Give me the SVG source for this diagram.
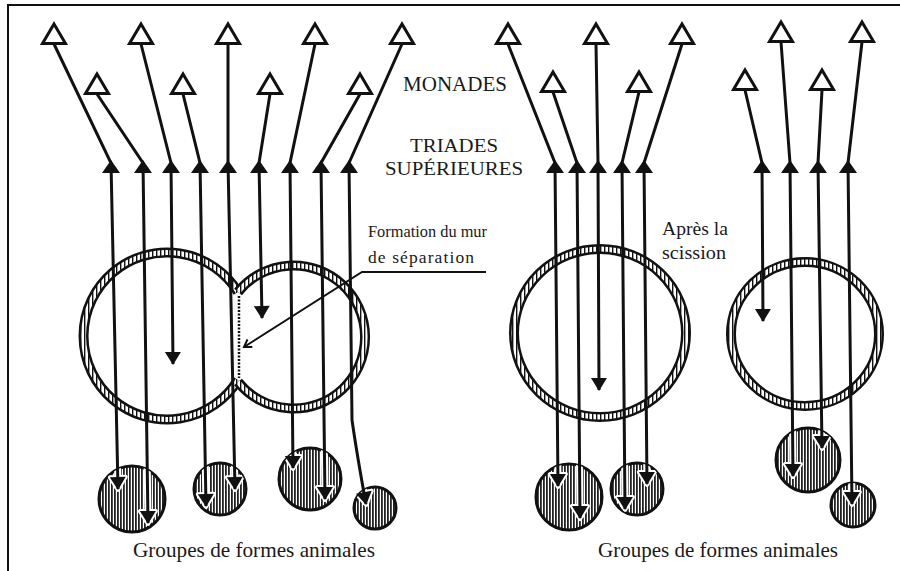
<svg xmlns="http://www.w3.org/2000/svg" width="900" height="571" viewBox="0 0 900 571">
  <style>
    .frame { fill: none; stroke: #111; stroke-width: 2; }
    .ring-out { fill: none; stroke: #111; stroke-width: 10; }
    .ring-in { fill: none; stroke: url(#hatch); stroke-width: 5; }
    .group { fill: url(#dense); stroke: #111; stroke-width: 3; }
    .conn { fill: none; stroke: #111; stroke-width: 3; }
    .halo { fill: none; stroke: #fff; stroke-width: 7; }
    .tri { fill: #fff; stroke: #111; stroke-width: 3; stroke-linejoin: miter; }
    .up { fill: #111; }
    .lbl { font-family: "Liberation Serif", "DejaVu Serif", serif; fill: #1a1a1a; }
    .big { font-size: 21px; }
    .hdr { font-size: 19px; }
    .mid { font-size: 18px; }
    .note { font-size: 17.5px; }
    .pointer { fill: none; stroke: #111; stroke-width: 2; }
    .wall { stroke: #111; stroke-width: 2.5; stroke-dasharray: 2 1.5; }
  </style>
  <defs>
    <pattern id="hatch" patternUnits="userSpaceOnUse" width="4" height="4">
      <rect width="4" height="4" fill="#fff"/>
      <rect width="1.4" height="4" fill="#111"/>
    </pattern>
    <pattern id="dense" patternUnits="userSpaceOnUse" width="3" height="3">
      <rect width="3" height="3" fill="#fff"/>
      <rect width="1.8" height="3" fill="#222"/>
    </pattern>
    <path id="tri" class="tri" d="M0,-10 L11.5,9.5 L-11.5,9.5 Z"/>
    <path id="up" class="up" d="M0,-2 L9,11 L-9,11 Z"/>
    <marker id="arrow" markerUnits="userSpaceOnUse" viewBox="0 0 13 16" markerWidth="13" markerHeight="16" refX="12" refY="8" orient="auto" overflow="visible">
      <path d="M0,0 L13,8 L0,16 Z" fill="#111"/>
    </marker>
    <marker id="arrowHalo" markerUnits="userSpaceOnUse" viewBox="0 0 13 16" markerWidth="13" markerHeight="16" refX="12" refY="8" orient="auto" overflow="visible">
      <path d="M0,0 L13,8 L0,16 Z" fill="#fff" stroke="#fff" stroke-width="4" stroke-linejoin="round"/>
    </marker>
    <marker id="tick" markerUnits="userSpaceOnUse" viewBox="0 0 10 10" markerWidth="10" markerHeight="10" refX="9" refY="5" orient="auto" overflow="visible">
      <path d="M2,0.5 L9,5 L2,9.5" fill="none" stroke="#111" stroke-width="2"/>
    </marker>
    <clipPath id="groupsClip">
      <circle cx="132" cy="499" r="33"/>
      <circle cx="220" cy="489" r="26"/>
      <circle cx="310" cy="479" r="31"/>
      <circle cx="375" cy="508" r="21"/>
      <circle cx="569" cy="497" r="33"/>
      <circle cx="637" cy="489" r="26"/>
      <circle cx="808" cy="460" r="32"/>
      <circle cx="853" cy="505" r="22"/>
    </clipPath>
  </defs>

  <rect width="900" height="571" fill="#fff"/>
  <path class="frame" d="M8,571 V5 H900"/>

  <!-- causal bodies: joined pair during separation -->
  <g id="body-left">
    <path class="ring-out" d="M238,292 A83.5,83.5 0 1 0 238,380"/>
    <path class="ring-in" d="M238,292 A83.5,83.5 0 1 0 238,380"/>
  </g>
  <g id="body-right">
    <path class="ring-out" d="M238,292 A71.5,71.5 0 1 1 238,382"/>
    <path class="ring-in" d="M238,292 A71.5,71.5 0 1 1 238,382"/>
  </g>
  <g id="wall">
    <line class="wall" x1="239" y1="296" x2="239" y2="378"/>
  </g>

  <!-- causal bodies after the split -->
  <g id="body-split-a">
    <ellipse class="ring-out" cx="600" cy="333" rx="86" ry="84"/>
    <ellipse class="ring-in" cx="600" cy="333" rx="86" ry="84"/>
  </g>
  <g id="body-split-b">
    <ellipse class="ring-out" cx="805" cy="334" rx="74" ry="72"/>
    <ellipse class="ring-in" cx="805" cy="334" rx="74" ry="72"/>
  </g>

  <!-- animal form groups -->
  <g id="group-1"><circle class="group" cx="132" cy="499" r="33"/></g>
  <g id="group-2"><circle class="group" cx="220" cy="489" r="26"/></g>
  <g id="group-3"><circle class="group" cx="310" cy="479" r="31"/></g>
  <g id="group-4"><circle class="group" cx="375" cy="508" r="21"/></g>
  <g id="group-5"><circle class="group" cx="569" cy="497" r="33"/></g>
  <g id="group-6"><circle class="group" cx="637" cy="489" r="26"/></g>
  <g id="group-7"><circle class="group" cx="808" cy="460" r="32"/></g>
  <g id="group-8"><circle class="group" cx="853" cy="505" r="22"/></g>

  <!-- connectors: monad -> upper triad -> downward ray -->
  <g id="connectors">
    <g clip-path="url(#groupsClip)">
      <path class="halo" marker-end="url(#arrowHalo)" d="M111,163 L118,489"/>
      <path class="halo" marker-end="url(#arrowHalo)" d="M143,163 L148,523"/>
      <path class="halo" marker-end="url(#arrowHalo)" d="M200,163 L206,506"/>
      <path class="halo" marker-end="url(#arrowHalo)" d="M228,163 L235,489"/>
      <path class="halo" marker-end="url(#arrowHalo)" d="M290,163 L293,468"/>
      <path class="halo" marker-end="url(#arrowHalo)" d="M321,163 L325,499"/>
      <path class="halo" marker-end="url(#arrowHalo)" d="M349,163 L352,420 Q357,455 366,504"/>
      <path class="halo" marker-end="url(#arrowHalo)" d="M555,163 L558,486"/>
      <path class="halo" marker-end="url(#arrowHalo)" d="M577,163 L580,518"/>
      <path class="halo" marker-end="url(#arrowHalo)" d="M622,163 L625,509"/>
      <path class="halo" marker-end="url(#arrowHalo)" d="M644,163 L647,484"/>
      <path class="halo" marker-end="url(#arrowHalo)" d="M790,163 L793,476"/>
      <path class="halo" marker-end="url(#arrowHalo)" d="M818,163 L822,448"/>
      <path class="halo" marker-end="url(#arrowHalo)" d="M848,163 L852,504"/>
    </g>
    <path class="conn" marker-end="url(#arrow)" d="M54,44 L111,163 L118,489"/>
    <path class="conn" marker-end="url(#arrow)" d="M97,94 L143,163 L148,523"/>
    <path class="conn" marker-end="url(#arrow)" d="M141,44 L171,163 L173,364"/>
    <path class="conn" marker-end="url(#arrow)" d="M183,94 L200,163 L206,506"/>
    <path class="conn" marker-end="url(#arrow)" d="M228,44 L228,163 L235,489"/>
    <path class="conn" marker-end="url(#arrow)" d="M270,94 L259,163 L262,318"/>
    <path class="conn" marker-end="url(#arrow)" d="M315,44 L290,163 L293,468"/>
    <path class="conn" marker-end="url(#arrow)" d="M360,94 L321,163 L325,499"/>
    <path class="conn" marker-end="url(#arrow)" d="M402,44 L349,163 L352,420 Q357,455 366,504"/>

    <path class="conn" marker-end="url(#arrow)" d="M508,44 L555,163 L558,486"/>
    <path class="conn" marker-end="url(#arrow)" d="M553,92 L577,163 L580,518"/>
    <path class="conn" marker-end="url(#arrow)" d="M596,44 L598,163 L599,390"/>
    <path class="conn" marker-end="url(#arrow)" d="M639,92 L622,163 L625,509"/>
    <path class="conn" marker-end="url(#arrow)" d="M682,44 L644,163 L647,484"/>
    <path class="conn" marker-end="url(#arrow)" d="M745,90 L762,163 L763,321"/>
    <path class="conn" marker-end="url(#arrow)" d="M781,42 L790,163 L793,476"/>
    <path class="conn" marker-end="url(#arrow)" d="M822,90 L818,163 L822,448"/>
    <path class="conn" marker-end="url(#arrow)" d="M862,42 L848,163 L852,504"/>
  </g>

  <!-- monads -->
  <g id="monad-1"><use href="#tri" x="54" y="34"/></g>
  <g id="monad-2"><use href="#tri" x="97" y="84"/></g>
  <g id="monad-3"><use href="#tri" x="141" y="34"/></g>
  <g id="monad-4"><use href="#tri" x="183" y="84"/></g>
  <g id="monad-5"><use href="#tri" x="228" y="34"/></g>
  <g id="monad-6"><use href="#tri" x="270" y="84"/></g>
  <g id="monad-7"><use href="#tri" x="315" y="34"/></g>
  <g id="monad-8"><use href="#tri" x="360" y="84"/></g>
  <g id="monad-9"><use href="#tri" x="402" y="34"/></g>
  <g id="monad-10"><use href="#tri" x="508" y="34"/></g>
  <g id="monad-11"><use href="#tri" x="553" y="82"/></g>
  <g id="monad-12"><use href="#tri" x="596" y="34"/></g>
  <g id="monad-13"><use href="#tri" x="639" y="82"/></g>
  <g id="monad-14"><use href="#tri" x="682" y="34"/></g>
  <g id="monad-15"><use href="#tri" x="745" y="80"/></g>
  <g id="monad-16"><use href="#tri" x="781" y="32"/></g>
  <g id="monad-17"><use href="#tri" x="822" y="80"/></g>
  <g id="monad-18"><use href="#tri" x="862" y="32"/></g>

  <!-- upper triads -->
  <g id="triads">
    <use href="#up" x="111" y="162"/>
    <use href="#up" x="143" y="162"/>
    <use href="#up" x="171" y="162"/>
    <use href="#up" x="200" y="162"/>
    <use href="#up" x="228" y="162"/>
    <use href="#up" x="259" y="162"/>
    <use href="#up" x="290" y="162"/>
    <use href="#up" x="321" y="162"/>
    <use href="#up" x="349" y="162"/>
    <use href="#up" x="555" y="162"/>
    <use href="#up" x="577" y="162"/>
    <use href="#up" x="598" y="162"/>
    <use href="#up" x="622" y="162"/>
    <use href="#up" x="644" y="162"/>
    <use href="#up" x="762" y="162"/>
    <use href="#up" x="790" y="162"/>
    <use href="#up" x="818" y="162"/>
    <use href="#up" x="848" y="162"/>
  </g>

  <!-- labels -->
  <g id="label-monades">
    <text class="lbl big" x="403" y="91" textLength="104" lengthAdjust="spacingAndGlyphs">MONADES</text>
  </g>
  <g id="label-triades">
    <text class="lbl hdr" x="410" y="152" textLength="88" lengthAdjust="spacingAndGlyphs">TRIADES</text>
    <text class="lbl hdr" x="385" y="175" textLength="138" lengthAdjust="spacingAndGlyphs">SUPÉRIEURES</text>
  </g>
  <g id="label-mur">
    <text class="lbl note" x="368" y="237" textLength="119" lengthAdjust="spacingAndGlyphs">Formation du mur</text>
    <text class="lbl note" x="368" y="263" textLength="106" lengthAdjust="spacing">de séparation</text>
    <polyline class="pointer" marker-end="url(#tick)" points="486,272 362,272 244,347"/>
  </g>
  <g id="label-scission">
    <text class="lbl mid" x="662" y="235" textLength="66" lengthAdjust="spacingAndGlyphs">Après la</text>
    <text class="lbl mid" x="662" y="259" textLength="64" lengthAdjust="spacingAndGlyphs">scission</text>
  </g>
  <g id="label-groupes-1">
    <text class="lbl big" x="133" y="557" textLength="242" lengthAdjust="spacingAndGlyphs">Groupes de formes animales</text>
  </g>
  <g id="label-groupes-2">
    <text class="lbl big" x="598" y="557" textLength="240" lengthAdjust="spacingAndGlyphs">Groupes de formes animales</text>
  </g>
</svg>
